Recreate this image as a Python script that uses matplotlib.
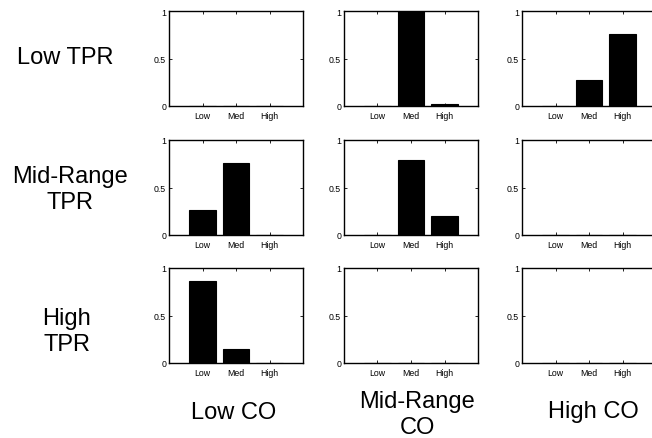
import matplotlib
matplotlib.use("Agg")
import matplotlib.pyplot as plt

plt.rcParams['font.family'] = ['Liberation Sans', 'DejaVu Sans']

W, H = 652, 439

categories = ["Low", "Med", "High"]
row_labels = ["Low TPR", "Mid-Range\nTPR", "High\nTPR"]
col_labels = ["Low CO", "Mid-Range\nCO", "High CO"]

# probability of each outcome, rows = TPR level, cols = CO level
low_tpr_low_co = [0.0, 0.0, 0.0]
low_tpr_mid_co = [0.0, 1.0, 0.02]
low_tpr_high_co = [0.0, 0.27, 0.757]
mid_tpr_low_co = [0.26, 0.76, 0.005]
mid_tpr_mid_co = [0.005, 0.79, 0.195]
mid_tpr_high_co = [0.0, 0.0, 0.0]
high_tpr_low_co = [0.863, 0.144, 0.0]
high_tpr_mid_co = [0.0, 0.0, 0.0]
high_tpr_high_co = [0.0, 0.0, 0.0]

grid = [
    [low_tpr_low_co, low_tpr_mid_co, low_tpr_high_co],
    [mid_tpr_low_co, mid_tpr_mid_co, mid_tpr_high_co],
    [high_tpr_low_co, high_tpr_mid_co, high_tpr_high_co],
]

fig = plt.figure(figsize=(W / 100, H / 100), dpi=100)

col_left = [169, 344, 522]
row_top = [12, 141, 269]
ax_w, ax_h = 134, 95

for r in range(3):
    for c in range(3):
        x0 = col_left[c] / W
        y0 = (H - row_top[r] - ax_h) / H
        ax = fig.add_axes([x0, y0, ax_w / W, ax_h / H])
        xs = [1, 2, 3]
        ax.bar(xs, grid[r][c], width=0.8, color="black", edgecolor="black", linewidth=0.8)
        ax.set_xlim(0, 4)
        ax.set_ylim(0, 1)
        ax.set_xticks(xs)
        ax.set_xticklabels(categories, fontsize=6.3)
        ax.set_yticks([0, 0.5, 1])
        ax.set_yticklabels(["0", "0.5", "1"], fontsize=6.3)
        ax.tick_params(direction="in", length=2, width=0.6, top=True, right=True)
        ax.tick_params(axis="x", pad=3.5)
        ax.tick_params(axis="y", pad=2)
        for s in ax.spines.values():
            s.set_linewidth(1.0)

def ftext(xp, yp, s, **kw):
    fig.text(xp / W, 1 - yp / H, s, ha="center", va="center", fontsize=17,
             linespacing=1.22, **kw)

ftext(65, 58, row_labels[0])
ftext(70, 190, row_labels[1])
ftext(67, 332, row_labels[2])

ftext(234, 413, col_labels[0])
ftext(417, 415, col_labels[1])
ftext(593, 412, col_labels[2])

fig.savefig("out.png", dpi=100)
